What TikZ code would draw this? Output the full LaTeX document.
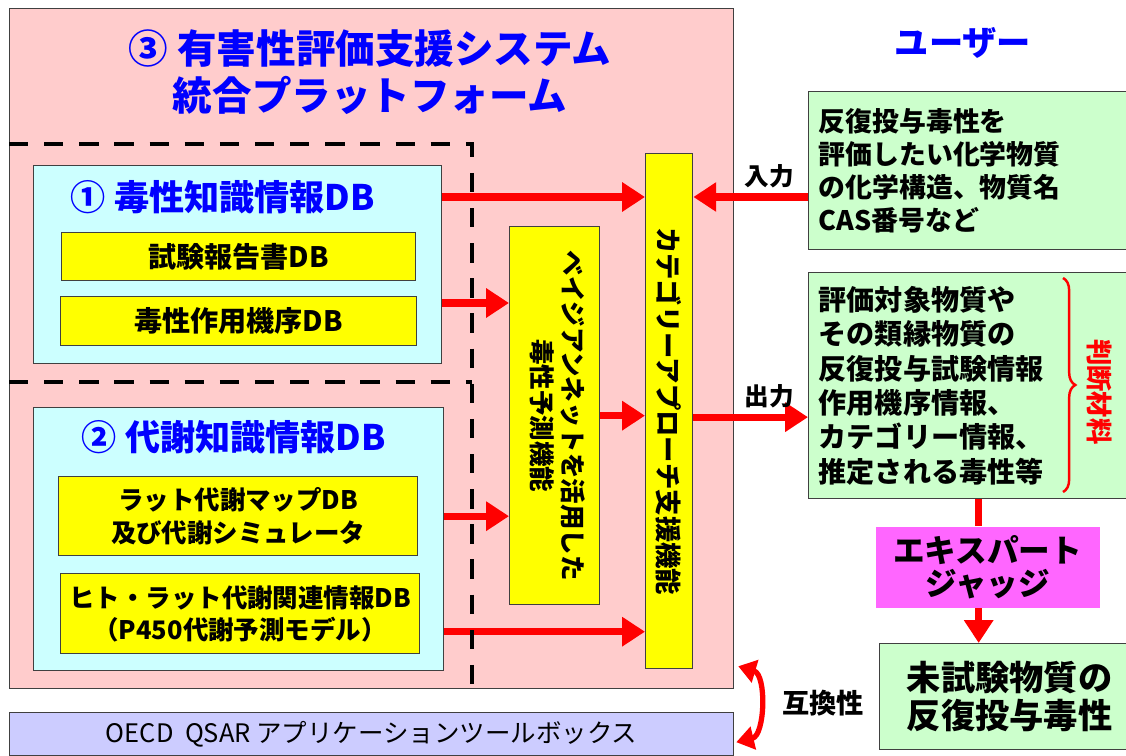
\documentclass[tikz,border=0pt]{standalone}
\usepackage{fontspec}
\setmainfont{Noto Sans CJK JP}
\usetikzlibrary{arrows.meta,calc,decorations.pathreplacing}

\definecolor{pinkbg}{HTML}{FFCCCC}
\definecolor{cyanbg}{HTML}{CCFFFF}
\definecolor{yellowbg}{HTML}{FFFF00}
\definecolor{greenbg}{HTML}{CCFFCC}
\definecolor{magentabg}{HTML}{FF66FF}
\definecolor{lilacbg}{HTML}{CCCCFF}
\definecolor{titleblue}{HTML}{0000FF}
\definecolor{arrowred}{HTML}{FF0000}

\newcommand{\fsz}[2]{\fontsize{#1}{#2}\selectfont}

\tikzset{
  box/.style={draw=black!75, line width=0.8pt, inner sep=0pt, anchor=north west},
  redarrow/.style={draw=arrowred, line width=4pt, -{Triangle[length=13pt,width=16pt]}},
  redline/.style={draw=arrowred, line width=4pt},
  dashline/.style={line width=2.6pt, dash pattern=on 11pt off 9pt},
}

\begin{document}
\begin{tikzpicture}[x=0.02cm, y=-0.02cm]
  \def\dashx{472}

  \useasboundingbox (0,0) rectangle (1126,756);

  % platform and its title
  \node[box, fill=pinkbg, minimum width=14.48cm, minimum height=13.6cm] (platform) at (9,8) {};
  \node[text=titleblue, font=\fsz{22.5}{26.5}\bfseries, align=center] (title) at (370,72)
    {③ 有害性評価支援システム\\統合プラットフォーム};

  % knowledge databases
  \node[box, fill=cyanbg, minimum width=8.16cm, minimum height=3.96cm] (db1) at (33,165) {};
  \node[text=titleblue, font=\fsz{20}{24}\bfseries] (t1) at (223,197) {① 毒性知識情報DB};
  \node[box, fill=yellowbg, minimum width=7.08cm, minimum height=0.96cm,
    font=\fsz{16}{19}\bfseries] (k1) at (61,232) {試験報告書DB};
  \node[box, fill=yellowbg, minimum width=7.12cm, minimum height=0.98cm,
    font=\fsz{16}{19}\bfseries] (k2) at (60,296) {毒性作用機序DB};

  \node[box, fill=cyanbg, minimum width=8.2cm, minimum height=5.26cm] (db2) at (33,407) {};
  \node[text=titleblue, font=\fsz{20}{24}\bfseries] (t2) at (234,437) {② 代謝知識情報DB};
  \node[box, fill=yellowbg, minimum width=7.18cm, minimum height=1.58cm, align=center,
    font=\fsz{14.5}{18.5}\bfseries] (k3) at (58,476) {ラット代謝マップDB\\及び代謝シミュレータ};
  \node[box, fill=yellowbg, minimum width=7.18cm, minimum height=1.6cm, align=center,
    font=\fsz{14.5}{18.5}\bfseries] (k4) at (60,573) {ヒト・ラット代謝関連情報DB\\（P450代謝予測モデル）};

  % prediction and category functions
  \node[box, fill=yellowbg, minimum width=1.8cm, minimum height=7.56cm,
    font=\fsz{14.5}{17}\bfseries] (bayes) at (509,226)
    {\rotatebox{-90}{\begin{tabular}{@{}c@{}}ベイジアンネットを活用した\\毒性予測機能\end{tabular}}};
  \node[box, fill=yellowbg, minimum width=0.94cm, minimum height=10.3cm,
    font=\fsz{15}{18}\bfseries] (cat) at (645,153) {\rotatebox{-90}{カテゴリーアプローチ支援機能}};

  \node[box, fill=lilacbg, minimum width=14.48cm, minimum height=0.86cm,
    font=\fsz{14.5}{18}] (oecd) at (9,712) {OECD\ \ QSAR アプリケーションツールボックス};

  % user side
  \node[text=titleblue, font=\fsz{19.5}{23}\bfseries] (user) at (963,43) {ユーザー};
  \node[box, fill=greenbg, minimum width=6.6cm, minimum height=3.16cm, inner xsep=0.2cm,
    text width=6.2cm, align=left, font=\fsz{15.3}{18.7}\bfseries] (userin) at (808,91)
    {反復投与毒性を\\評価したい化学物質\\の化学構造、物質名\\CAS番号など};
  \node[box, fill=greenbg, minimum width=6.6cm, minimum height=4.52cm, inner xsep=0.2cm,
    text width=6.2cm, align=left, font=\fsz{16}{19.6}\bfseries] (out) at (808,272)
    {評価対象物質や\\その類縁物質の\\反復投与試験情報\\作用機序情報、\\カテゴリー情報、\\推定される毒性等};
  \node[text=arrowred, rotate=-90, font=\fsz{15}{18}\bfseries] (judge) at (1100,392) {判断材料};
  \node[box, draw=none, fill=magentabg, minimum width=4.48cm, minimum height=1.62cm, align=center,
    font=\fsz{18}{18.5}\bfseries] (expert) at (875,526) {エキスパート\\ジャッジ};
  \node[box, fill=greenbg, minimum width=5.2cm, minimum height=2.12cm, align=center,
    font=\fsz{19.5}{21.5}\bfseries] (result) at (879,643) {未試験物質の\\反復投与毒性};

  % connectors
  \draw[redarrow] (t1 -| db1.east) -- (t1 -| cat.west);
  \draw[redarrow] ($(k2.north -| db1.east)+(0,7)$) -- ($(k2.north -| bayes.west)+(0,7)$);
  \draw[redarrow] (k3 -| db2.east) -- (k3 -| bayes.west);
  \draw[redarrow] ($(k4 -| db2.east)+(0,18)$) -- ($(k4 -| cat.west)+(0,18)$);
  \draw[redarrow] (bayes.east) -- (bayes.east -| cat.west);
  \draw[redarrow] (t1 -| userin.west) -- node[above, pos=.34, text=black, font=\fsz{14}{16}\bfseries]
    (inlabel) {入力} (t1 -| cat.east);
  \draw[redarrow] ($(cat.east)+(0,6)$) -- node[above, pos=.66, text=black, font=\fsz{14}{16}\bfseries]
    (outlabel) {出力} ($(cat.east -| out.west)+(0,6)$);
  \draw[redline] ($(out.south)+(5,0)$) -- ($(out.south |- expert.north)+(5,0)$);
  \draw[redarrow] ($(out.south |- expert.south)+(5,0)$) -- ($(out.south |- result.north)+(5,0)$);
  \draw[draw=arrowred, line width=3pt, {Triangle[length=10pt,width=13pt]}-{Triangle[length=10pt,width=13pt]}]
    ($(platform.south east)+(4,-23)$) to[bend left=75] ($(oecd.east)+(2,8)$);
  \node[font=\fsz{15.5}{18}\bfseries] (compat) at (823,703) {互換性};

  % dashed grouping
  \draw[dashline] (platform.west |- 0,144) -- (\dashx,144) -- (\dashx,688);
  \draw[dashline] (platform.west |- 0,382) -- (\dashx,382);

  \draw[draw=arrowred, line width=1.4pt, decorate, decoration={brace, amplitude=7pt}]
    (1063,278) -- (1063,492);
\end{tikzpicture}
\end{document}
